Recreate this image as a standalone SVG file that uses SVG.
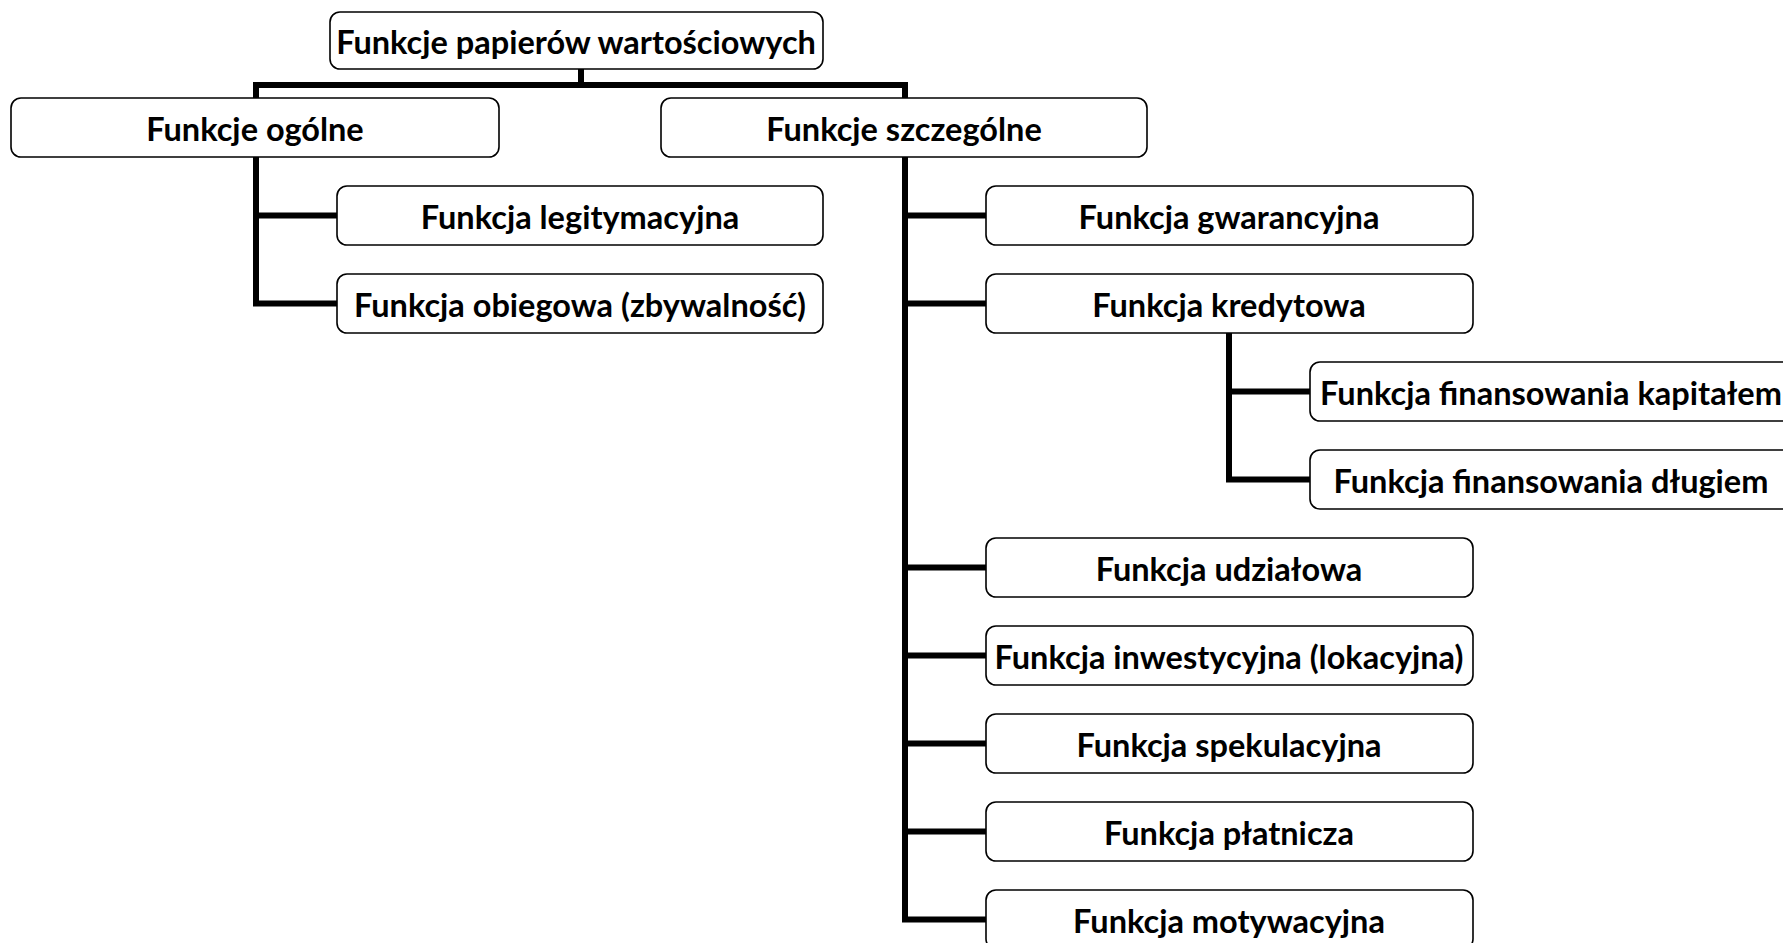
<svg xmlns="http://www.w3.org/2000/svg" width="1783" height="943" viewBox="0 0 1783 943">
<style>
.box{fill:#fff;stroke:#000;stroke-width:1.6}
.lbl{font-family:Lato,"Open Sans",sans-serif;font-weight:bold;font-size:32.5px;fill:#000;text-anchor:middle;dominant-baseline:central}
.con{fill:none;stroke:#000;stroke-width:6;stroke-linejoin:miter}
</style>
<rect width="1783" height="943" fill="#fff"/>
<g id="connectors">
<path class="con" d="M581 69V85M256 98V85H905V98"/>
<path class="con" d="M256 157V303.5H337M256 215.5H337"/>
<path class="con" d="M905 157V919.5H986M905 215.5H986M905 303.5H986M905 567.5H986M905 655.5H986M905 743.5H986M905 831.5H986"/>
<path class="con" d="M1229 333V479.5H1310M1229 391.5H1310"/>
</g>
<g id="n0"><rect class="box" x="330" y="12" width="493" height="57" rx="10"/><text class="lbl" x="576" y="41">Funkcje papierów wartościowych</text></g>
<g id="n1"><rect class="box" x="11" y="98" width="488" height="59" rx="10"/><text class="lbl" x="255" y="128">Funkcje ogólne</text></g>
<g id="n2"><rect class="box" x="661" y="98" width="486" height="59" rx="10"/><text class="lbl" x="904" y="128">Funkcje szczególne</text></g>
<g id="n3"><rect class="box" x="337" y="186" width="486" height="59" rx="10"/><text class="lbl" x="580" y="216">Funkcja legitymacyjna</text></g>
<g id="n4"><rect class="box" x="337" y="274" width="486" height="59" rx="10"/><text class="lbl" x="580" y="304">Funkcja obiegowa (zbywalność)</text></g>
<g id="n5"><rect class="box" x="986" y="186" width="487" height="59" rx="10"/><text class="lbl" x="1229" y="216">Funkcja gwarancyjna</text></g>
<g id="n6"><rect class="box" x="986" y="274" width="487" height="59" rx="10"/><text class="lbl" x="1229" y="304">Funkcja kredytowa</text></g>
<g id="n7"><rect class="box" x="1310" y="362" width="500" height="59" rx="10"/><text class="lbl" x="1551" y="392">Funkcja finansowania kapitałem</text></g>
<g id="n8"><rect class="box" x="1310" y="450" width="500" height="59" rx="10"/><text class="lbl" x="1551" y="480">Funkcja finansowania długiem</text></g>
<g id="n9"><rect class="box" x="986" y="538" width="487" height="59" rx="10"/><text class="lbl" x="1229" y="568">Funkcja udziałowa</text></g>
<g id="n10"><rect class="box" x="986" y="626" width="487" height="59" rx="10"/><text class="lbl" x="1229" y="656">Funkcja inwestycyjna (lokacyjna)</text></g>
<g id="n11"><rect class="box" x="986" y="714" width="487" height="59" rx="10"/><text class="lbl" x="1229" y="744">Funkcja spekulacyjna</text></g>
<g id="n12"><rect class="box" x="986" y="802" width="487" height="59" rx="10"/><text class="lbl" x="1229" y="832">Funkcja płatnicza</text></g>
<g id="n13"><rect class="box" x="986" y="890" width="487" height="59" rx="10"/><text class="lbl" x="1229" y="920">Funkcja motywacyjna</text></g>
</svg>
